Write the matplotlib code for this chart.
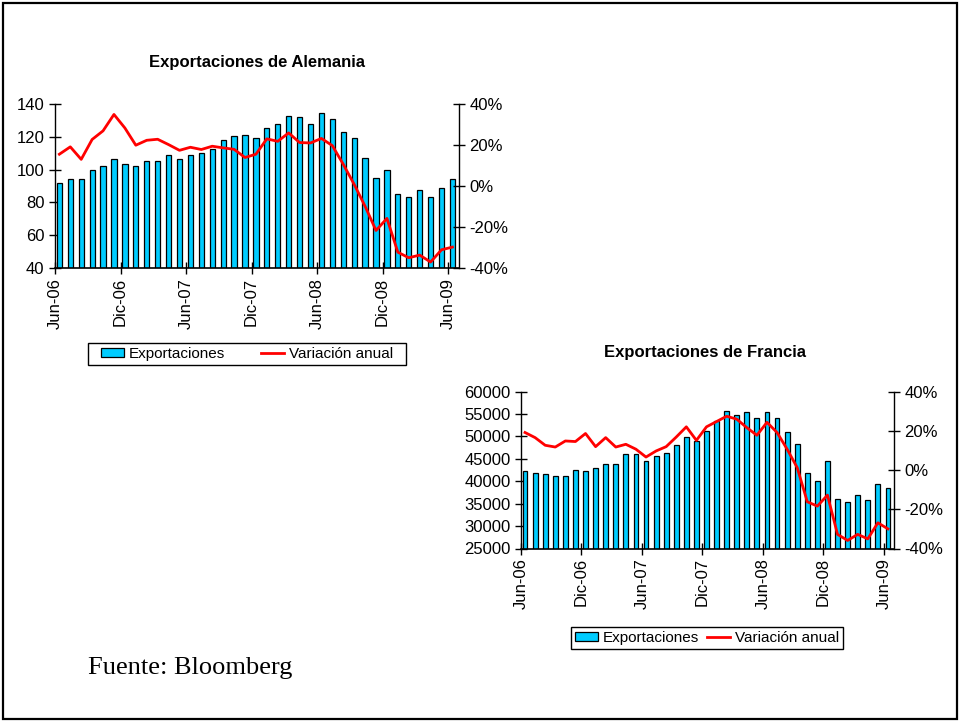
import numpy as np
import matplotlib
matplotlib.use("Agg")
import matplotlib.pyplot as plt
from matplotlib.patches import Rectangle
from matplotlib.ticker import FuncFormatter

plt.rcParams['font.family'] = ['Liberation Sans', 'DejaVu Sans']

# month labels on the x axis (every 6 months, Jun-06 .. Jun-09)
tick_labels = ["Jun-06", "Dic-06", "Jun-07", "Dic-07", "Jun-08", "Dic-08", "Jun-09"]

# Germany: exports (index) and annual change (%)
de_exports = [92, 94, 94, 100, 102, 106.5, 103.5, 102, 105.5, 105.5, 109, 106.5, 109,
              110, 112.5, 118, 120.5, 121, 119.5, 125.5, 128, 132.5, 132, 128, 134.5,
              131, 123, 119, 107, 95, 100, 85, 83.5, 87.5, 83, 88.5, 94.5]
de_change = [15.5, 19.1, 13.0, 22.7, 26.9, 34.9, 28.3, 19.9, 22.3, 22.8, 20.2, 17.4, 18.9,
             17.8, 19.4, 18.6, 17.9, 13.9, 15.5, 23.0, 21.8, 25.9, 21.2, 21.0, 23.2,
             19.7, 10.6, 0.8, -9.9, -21.7, -15.8, -32.3, -35.0, -33.7, -37.1, -31.1, -29.8]

# France: exports (millions) and annual change (%)
fr_exports = [42200, 41800, 41500, 41150, 41150, 42450, 42200, 43050, 43750, 43750, 46000,
              46150, 44600, 45600, 46400, 48000, 49950, 48900, 51200, 53500, 55700, 54800,
              55350, 54150, 55350, 54150, 51050, 48250, 41900, 39950, 44400, 35950, 35450,
              36850, 35750, 39450, 38550]
fr_change = [19.1, 16.5, 12.6, 11.7, 14.8, 14.5, 18.6, 11.9, 16.5, 11.7, 13.1, 10.6, 6.6,
             9.7, 11.9, 16.8, 22.0, 15.1, 22.0, 24.7, 27.4, 25.9, 21.6, 17.7, 24.3, 19.1,
             10.6, 1.2, -16.2, -18.4, -12.8, -32.8, -35.9, -32.8, -35.1, -26.9, -30.0]

BAR = '#00CCFF'
LINE = '#FF0000'
W, H = 960, 721

fig = plt.figure(figsize=(9.6, 7.21), dpi=100)

# outer frame
fig.patches.append(Rectangle((3 / W, 2 / H), 954 / W, 716 / H, transform=fig.transFigure,
                             fill=False, edgecolor='black', linewidth=1.6))


def draw_panel(rect, exports, change, ylim, yticks, title, title_xy, legend_box, colsp):
    ax = fig.add_axes(rect)
    x = np.arange(len(exports)) + 0.4
    bars = ax.bar(x, exports, width=0.48, color=BAR, edgecolor='black', linewidth=0.9,
                  label='Exportaciones', zorder=2)
    ax.set_ylim(*ylim)
    ax.set_yticks(yticks)
    ax.set_xlim(0, len(exports))
    ax.set_xticks(np.arange(0, 37, 6))
    ax.set_xticklabels(tick_labels, rotation=90)
    ax.tick_params(axis='both', direction='inout', length=8, width=1, labelsize=12)
    ax.tick_params(axis='x', pad=3)
    for s in ['top', 'right']:
        ax.spines[s].set_visible(False)
    ax.spines['left'].set_linewidth(1)
    ax.spines['bottom'].set_linewidth(1.2)
    ax.patch.set_alpha(0)

    ax2 = ax.twinx()
    line, = ax2.plot(x, change, color=LINE, linewidth=2, label='Variación anual', zorder=3)
    ax2.set_ylim(-40, 40)
    ax2.set_yticks([-40, -20, 0, 20, 40])
    ax2.yaxis.set_major_formatter(FuncFormatter(lambda v, p: f"{v:.0f}%"))
    ax2.tick_params(axis='y', direction='inout', length=8, width=1, labelsize=12)
    for s in ['top', 'left', 'bottom']:
        ax2.spines[s].set_visible(False)
    ax2.spines['right'].set_linewidth(1)

    fig.text(title_xy[0] / W, 1 - title_xy[1] / H, title, ha='center', va='center',
             fontsize=12, fontweight='bold')

    # legend box drawn separately, entries placed in its middle
    x0, y0, x1, y1 = legend_box
    fig.patches.append(Rectangle((x0 / W, 1 - y1 / H), (x1 - x0) / W, (y1 - y0) / H,
                                 transform=fig.transFigure, fill=False,
                                 edgecolor='black', linewidth=1))
    fig.legend([bars, line], ['Exportaciones', 'Variación anual'], ncol=2,
               loc='center', bbox_to_anchor=((x0 + x1) / 2 / W, 1 - (y0 + y1) / 2 / H),
               fontsize=11, frameon=False, handlelength=1.5, handleheight=0.55,
               columnspacing=colsp, borderpad=0.1, handletextpad=0.35)
    return ax


draw_panel([55 / W, 1 - 268 / H, 404 / W, 164 / H], de_exports, de_change,
           (40, 140), [40, 60, 80, 100, 120, 140], "Exportaciones de Alemania",
           (257, 63), (88, 343, 406, 365), 2.3)

draw_panel([521 / W, 1 - 548.5 / H, 373 / W, 157 / H], fr_exports, fr_change,
           (25000, 60000), np.arange(25000, 60001, 5000), "Exportaciones de Francia",
           (705, 352), (571, 627, 843, 649), 0.5)

fig.text(88 / W, 1 - 668 / H, "Fuente: Bloomberg", fontsize=19,
         family=['Liberation Serif', 'DejaVu Serif'], ha='left', va='center')

fig.savefig("out.png", dpi=100)
